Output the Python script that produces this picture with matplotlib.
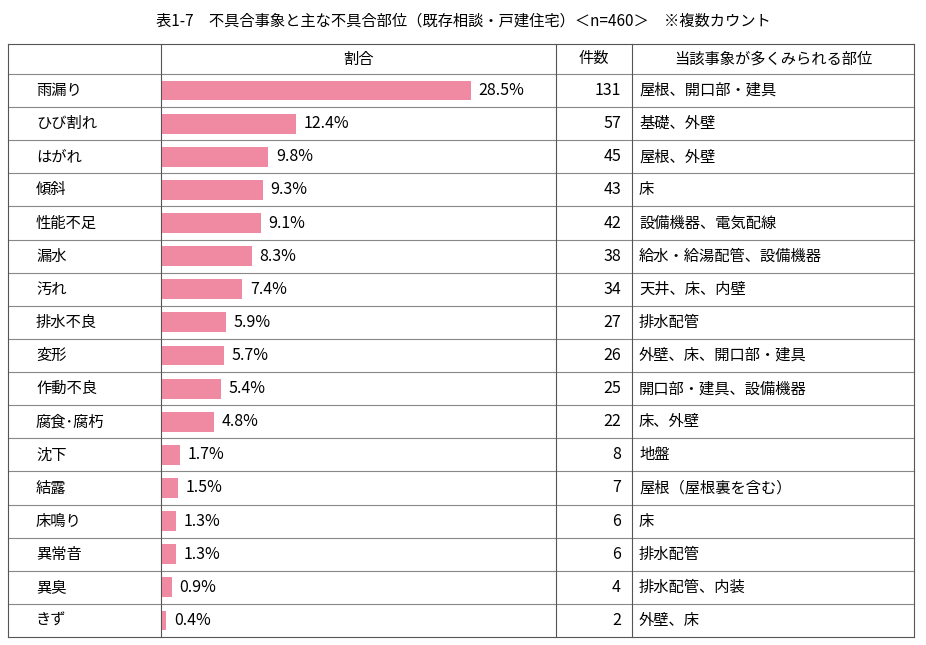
import matplotlib
matplotlib.use("Agg")
import matplotlib.pyplot as plt

plt.rcParams["font.family"] = "Noto Sans CJK JP"

title = "表1-7　不具合事象と主な不具合部位（既存相談・戸建住宅）＜n=460＞　※複数カウント"
headers = ["割合", "件数", "当該事象が多くみられる部位"]
categories = ["雨漏り", "ひび割れ", "はがれ", "傾斜", "性能不足", "漏水", "汚れ", "排水不良", "変形",
              "作動不良", "腐食･腐朽", "沈下", "結露", "床鳴り", "異常音", "異臭", "きず"]
percent = [28.5, 12.4, 9.8, 9.3, 9.1, 8.3, 7.4, 5.9, 5.7, 5.4, 4.8, 1.7, 1.5, 1.3, 1.3, 0.9, 0.4]
counts = [131, 57, 45, 43, 42, 38, 34, 27, 26, 25, 22, 8, 7, 6, 6, 4, 2]
parts = ["屋根、開口部・建具", "基礎、外壁", "屋根、外壁", "床", "設備機器、電気配線",
         "給水・給湯配管、設備機器", "天井、床、内壁", "排水配管", "外壁、床、開口部・建具",
         "開口部・建具、設備機器", "床、外壁", "地盤", "屋根（屋根裏を含む）", "床", "排水配管",
         "排水配管、内装", "外壁、床"]

W, H = 926, 645
fig = plt.figure(figsize=(W / 100, H / 100), dpi=100)
ax = fig.add_axes([0, 0, 1, 1])
ax.set_xlim(0, W); ax.set_ylim(H, 0); ax.axis("off")

x0, x1, x2, x3, x4 = 8, 161, 556, 632, 914
ytop, yhead = 44, 74
n = len(categories)
rh = (637 - yhead) / n
ybot = yhead + n * rh

ax.text(463, 21, title, ha="center", va="center", fontsize=11)
lc = "#555555"
for y in [ytop, yhead] + [yhead + i * rh for i in range(1, n + 1)]:
    ax.plot([x0, x4], [y, y], color=lc if y in (ytop, ybot) else "#888888", lw=0.8)
for x in [x0, x1, x2, x3, x4]:
    ax.plot([x, x], [ytop, ybot], color=lc, lw=0.8)
hy = (ytop + yhead) / 2
ax.text((x1 + x2) / 2, hy, headers[0], ha="center", va="center", fontsize=11)
ax.text((x2 + x3) / 2, hy, headers[1], ha="center", va="center", fontsize=11)
ax.text((x3 + x4) / 2, hy, headers[2], ha="center", va="center", fontsize=11)

for i in range(n):
    yc = yhead + (i + 0.5) * rh
    ax.text(36, yc, categories[i], ha="left", va="center", fontsize=11)
    ax.text(621, yc, str(counts[i]), ha="right", va="center", fontsize=11.5)
    ax.text(639, yc, parts[i], ha="left", va="center", fontsize=11)

# bar axes
bx0 = x1 + 1
scale = 10.84
bax = fig.add_axes([bx0 / W, 1 - ybot / H, (x2 - bx0) / W, (ybot - yhead) / H])
bax.set_xlim(0, (x2 - bx0) / scale)
bax.set_ylim(n - 0.5, -0.5)
bax.axis("off")
bax.barh(range(n), percent, height=0.6, color="#f08aa3")
for i, p in enumerate(percent):
    bax.text(p + 0.7, i, f"{p}%", ha="left", va="center", fontsize=11.5)

fig.savefig("out.png", dpi=100)
